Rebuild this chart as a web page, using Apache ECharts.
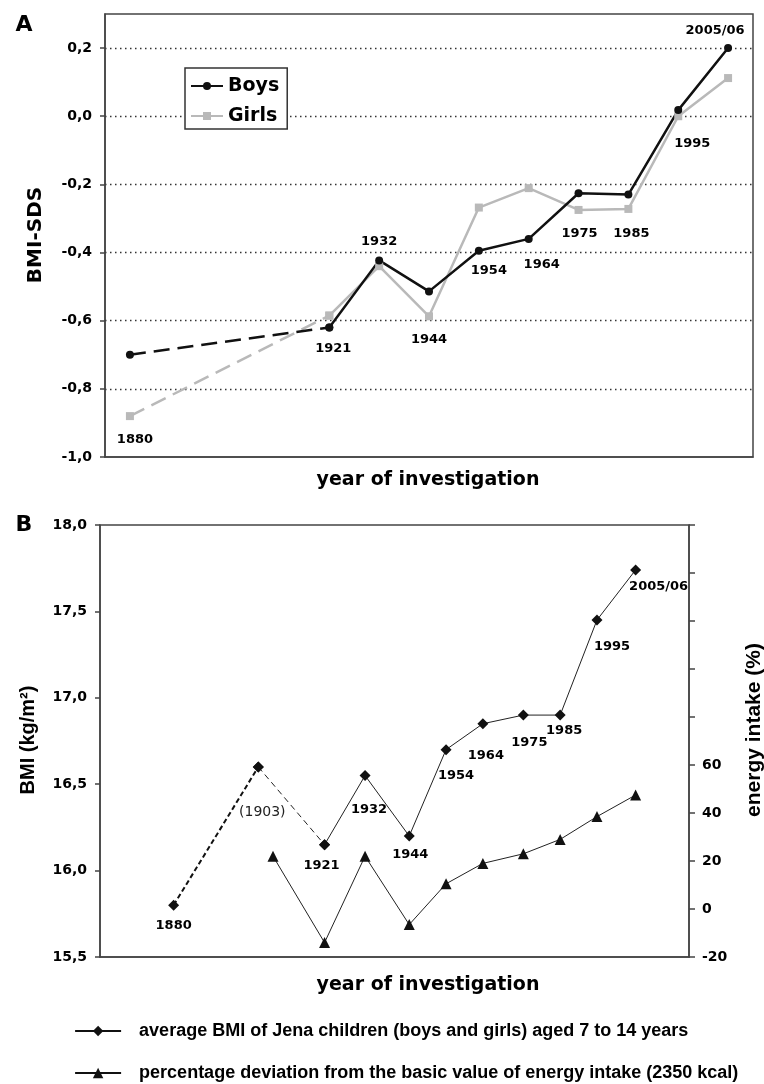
<!DOCTYPE html>
<html><head><meta charset="utf-8">
<script src="https://cdn.jsdelivr.net/npm/echarts@6/dist/echarts.min.js"></script>
<style>html,body{margin:0;padding:0;background:#fff}#c{width:764px;height:1084px}</style>
</head><body><div id="c"></div>
<script>
// ---------- Panel A data ----------
const yearLabelsA = ['1880','1921','1932','1944','1954','1964','1975','1985','1995','2005/06'];
const boysSDS  = [-0.70, -0.62, -0.423, -0.514, -0.395, -0.36, -0.226, -0.23, 0.018, 0.20];
const girlsSDS = [-0.88, -0.585, -0.44, -0.587, -0.268, -0.211, -0.275, -0.272, 0.0, 0.112];
// ---------- Panel B data ----------
const bmiYears   = [1880, 1903, 1921, 1932, 1944, 1954, 1964, 1975, 1985, 1995, 2005.5];
const bmiValues  = [15.8, 16.6, 16.15, 16.55, 16.2, 16.7, 16.85, 16.9, 16.9, 17.45, 17.74];
const bmiLabels  = ['1880','(1903)','1921','1932','1944','1954','1964','1975','1985','1995','2005/06'];
const energyYears  = [1907, 1921, 1932, 1944, 1954, 1964, 1975, 1985, 1995, 2005.5];
const energyValues = [22, -14, 22, -6.5, 10.5, 19, 23, 29, 38.5, 47.5];
const legendB = ['average BMI of Jena children (boys and girls) aged 7 to 14 years',
                 'percentage deviation from the basic value of energy intake (2350 kcal)'];

// ---------- layout helpers ----------
const gapSlotsA = 3;
const categoriesA = [yearLabelsA[0]].concat(Array(gapSlotsA).fill(''), yearLabelsA.slice(1));
const slotA = i => (i === 0 ? 0 : i + gapSlotsA);
function fullA(vals, from, to) {
  const d = categoriesA.map(() => '-');
  for (let i = from; i <= to; i++) d[slotA(i)] = vals[i];
  return d;
}
const labelAnchorA = ['g','b','b','g','b','b','g','g','g','b'];
const labelOffsetsA = [[5,24],[4,21],[0,-19],[0,23],[10,20],[13,26],[1,24],[3,25],[14,27],[-13,-17]];
const labelOffsetsB = [[0,20],[4,45],[-3,21],[4,34],[1,19],[10,26],[3,32],[6,28],[4,16],[15,27],[23,17]];

const F = 'DejaVu Sans';
const comma = v => { if (Math.abs(v) < 1e-9) v = 0; return v.toFixed(1).replace('.', ','); };
const lblStyle = {color:'#000', fontFamily:F, fontWeight:'bold', fontSize:13, align:'center', verticalAlign:'middle',
                  textBorderWidth:0, textBorderColor:'transparent', opacity:1};

const labelsA = yearLabelsA.map((t, i) => ({
  value: [slotA(i), labelAnchorA[i] === 'g' ? girlsSDS[i] : boysSDS[i]],
  label: Object.assign({show:true, position:'inside', offset:labelOffsetsA[i], formatter:t}, lblStyle)
}));
const labelsB = bmiLabels.map((t, i) => ({
  value: [bmiYears[i], bmiValues[i]],
  label: Object.assign({show:true, position:'inside', offset:labelOffsetsB[i], formatter:t}, lblStyle,
    t.startsWith('(') ? {fontWeight:'normal', fontSize:14, color:'#222'} : {})
}));
const ptsB = (xs, ys, a, b) => xs.slice(a, b).map((x, k) => [x, ys[a + k]]);

const axisCol = '#444';
const option = {
  animation: false,
  backgroundColor: '#fff',
  grid: [
    {left:105, top:14, width:648, height:443, show:true, borderColor:axisCol, borderWidth:1.5},
    {left:100, top:525, width:589, height:432, show:true, borderColor:axisCol, borderWidth:1.5}
  ],
  xAxis: [
    {gridIndex:0, type:'category', data:categoriesA, boundaryGap:true,
     axisLine:{show:true, onZero:false, lineStyle:{color:axisCol, width:1.5}}, axisTick:{show:false}, axisLabel:{show:false}, splitLine:{show:false}},
    {gridIndex:1, type:'value', min:1860, max:2020,
     axisLine:{show:true, onZero:false, lineStyle:{color:axisCol, width:1.5}}, axisTick:{show:false}, axisLabel:{show:false}, splitLine:{show:false}}
  ],
  yAxis: [
    {gridIndex:0, type:'value', min:-1.0, max:0.3, interval:0.2,
     axisLine:{show:true, onZero:false, lineStyle:{color:axisCol, width:1.5}},
     axisTick:{show:true, length:5, lineStyle:{color:axisCol, width:1.5}},
     axisLabel:{showMaxLabel:false, margin:13, color:'#000', fontFamily:F, fontWeight:'bold', fontSize:14, formatter:comma},
     splitLine:{show:true, showMinLine:false, showMaxLine:false, lineStyle:{color:'#333', width:1.3, type:[1.5,3.5]}}},
    {gridIndex:1, type:'value', min:15.5, max:18, interval:0.5,
     axisLine:{show:true, onZero:false, lineStyle:{color:axisCol, width:1.5}},
     axisTick:{show:true, length:5, lineStyle:{color:axisCol, width:1.5}},
     axisLabel:{margin:13, color:'#000', fontFamily:F, fontWeight:'bold', fontSize:14, formatter:comma},
     splitLine:{show:false}},
    {gridIndex:1, type:'value', position:'right', min:-20, max:160, interval:20,
     axisLine:{show:true, onZero:false, lineStyle:{color:axisCol, width:1.5}},
     axisTick:{show:true, length:6, lineStyle:{color:axisCol, width:1.5}},
     axisLabel:{margin:13, color:'#000', fontFamily:F, fontWeight:'bold', fontSize:14, formatter: v => (v <= 60 ? String(v) : '')},
     splitLine:{show:false}}
  ],
  legend: [
    {data:['Boys','Girls'], orient:'vertical', left:185, top:68, itemGap:8, itemWidth:32, itemHeight:10,
     backgroundColor:'#fff', borderColor:'#333', borderWidth:1.5, borderRadius:0, padding:[7,8,2,5],
     textStyle:{color:'#000', fontFamily:F, fontWeight:'bold', fontSize:19, lineHeight:22}, selectedMode:false},
    {data:legendB, orient:'vertical', left:74, top:1021, height:80, itemGap:22, itemWidth:46, itemHeight:13, padding:0,
     lineStyle:{width:2.2, color:'#111'},
     textStyle:{color:'#000', fontFamily:'Liberation Sans', fontWeight:'bold', fontSize:18, lineHeight:20, padding:[0,0,0,13]}, selectedMode:false}
  ],
  series: [
    {name:'Girls 1880-1921', type:'line', xAxisIndex:0, yAxisIndex:0, data:fullA(girlsSDS,0,1), connectNulls:true,
     symbol:'rect', symbolSize:8, itemStyle:{color:'#b9b9b9'}, lineStyle:{color:'#b9b9b9', width:2.5, type:[16,8]}, silent:true},
    {name:'Boys 1880-1921', type:'line', xAxisIndex:0, yAxisIndex:0, data:fullA(boysSDS,0,1), connectNulls:true,
     symbol:'circle', symbolSize:8, itemStyle:{color:'#111'}, lineStyle:{color:'#111', width:2.5, type:[16,8]}, silent:true},
    {name:'Girls', type:'line', xAxisIndex:0, yAxisIndex:0, data:fullA(girlsSDS,1,girlsSDS.length-1),
     symbol:'rect', symbolSize:8, itemStyle:{color:'#b9b9b9'}, lineStyle:{color:'#b9b9b9', width:2.5}, silent:true},
    {name:'Boys', type:'line', xAxisIndex:0, yAxisIndex:0, data:fullA(boysSDS,1,boysSDS.length-1),
     symbol:'circle', symbolSize:8, itemStyle:{color:'#111'}, lineStyle:{color:'#111', width:2.5}, silent:true},
    {name:'labelsA', type:'scatter', xAxisIndex:0, yAxisIndex:0, data:labelsA, symbolSize:0, itemStyle:{color:'#fff', opacity:1}, silent:true, z:10},

    {name:'BMI 1880-1903', type:'line', xAxisIndex:1, yAxisIndex:1, data:ptsB(bmiYears,bmiValues,0,2),
     symbol:'diamond', symbolSize:11, itemStyle:{color:'#111'}, lineStyle:{color:'#111', width:2, type:[5,3]}, silent:true},
    {name:'BMI 1903-1921', type:'line', xAxisIndex:1, yAxisIndex:1, data:ptsB(bmiYears,bmiValues,1,3),
     symbol:'diamond', symbolSize:11, itemStyle:{color:'#111'}, lineStyle:{color:'#222', width:1, type:[6,4]}, silent:true},
    {name:legendB[0], type:'line', xAxisIndex:1, yAxisIndex:1, data:ptsB(bmiYears,bmiValues,2,bmiYears.length),
     symbol:'diamond', symbolSize:11, itemStyle:{color:'#111'}, lineStyle:{color:'#222', width:1}, silent:true},
    {name:legendB[1], type:'line', xAxisIndex:1, yAxisIndex:2, data:ptsB(energyYears,energyValues,0,energyYears.length),
     symbol:'triangle', symbolSize:11, itemStyle:{color:'#111'}, lineStyle:{color:'#222', width:1}, silent:true},
    {name:'labelsB', type:'scatter', xAxisIndex:1, yAxisIndex:1, data:labelsB, symbolSize:0, itemStyle:{color:'#fff', opacity:1}, silent:true, z:10}
  ],
  graphic: [
    {type:'text', x:24, y:25, style:{text:'A', fill:'#000', font:'bold 22px "DejaVu Sans"', align:'center', verticalAlign:'middle'}},
    {type:'text', x:24, y:525, style:{text:'B', fill:'#000', font:'bold 22px "DejaVu Sans"', align:'center', verticalAlign:'middle'}},
    {type:'text', x:428, y:480, style:{text:'year of investigation', fill:'#000', font:'bold 19px "DejaVu Sans"', align:'center', verticalAlign:'middle'}},
    {type:'text', x:428, y:985, style:{text:'year of investigation', fill:'#000', font:'bold 19px "DejaVu Sans"', align:'center', verticalAlign:'middle'}},
    {type:'text', x:36, y:235, rotation:Math.PI/2, style:{text:'BMI-SDS', fill:'#000', font:'bold 20px "DejaVu Sans"', align:'center', verticalAlign:'middle'}},
    {type:'text', x:28, y:740, rotation:Math.PI/2, style:{text:'BMI (kg/m²)', fill:'#000', font:'bold 20px "Liberation Sans"', align:'center', verticalAlign:'middle'}},
    {type:'text', x:754, y:730, rotation:Math.PI/2, style:{text:'energy intake (%)', fill:'#000', font:'bold 21px "Liberation Sans"', align:'center', verticalAlign:'middle'}}
  ]
};
const chart = echarts.init(document.getElementById('c'), null, {renderer:'canvas'});
chart.setOption(option);
</script></body></html>
